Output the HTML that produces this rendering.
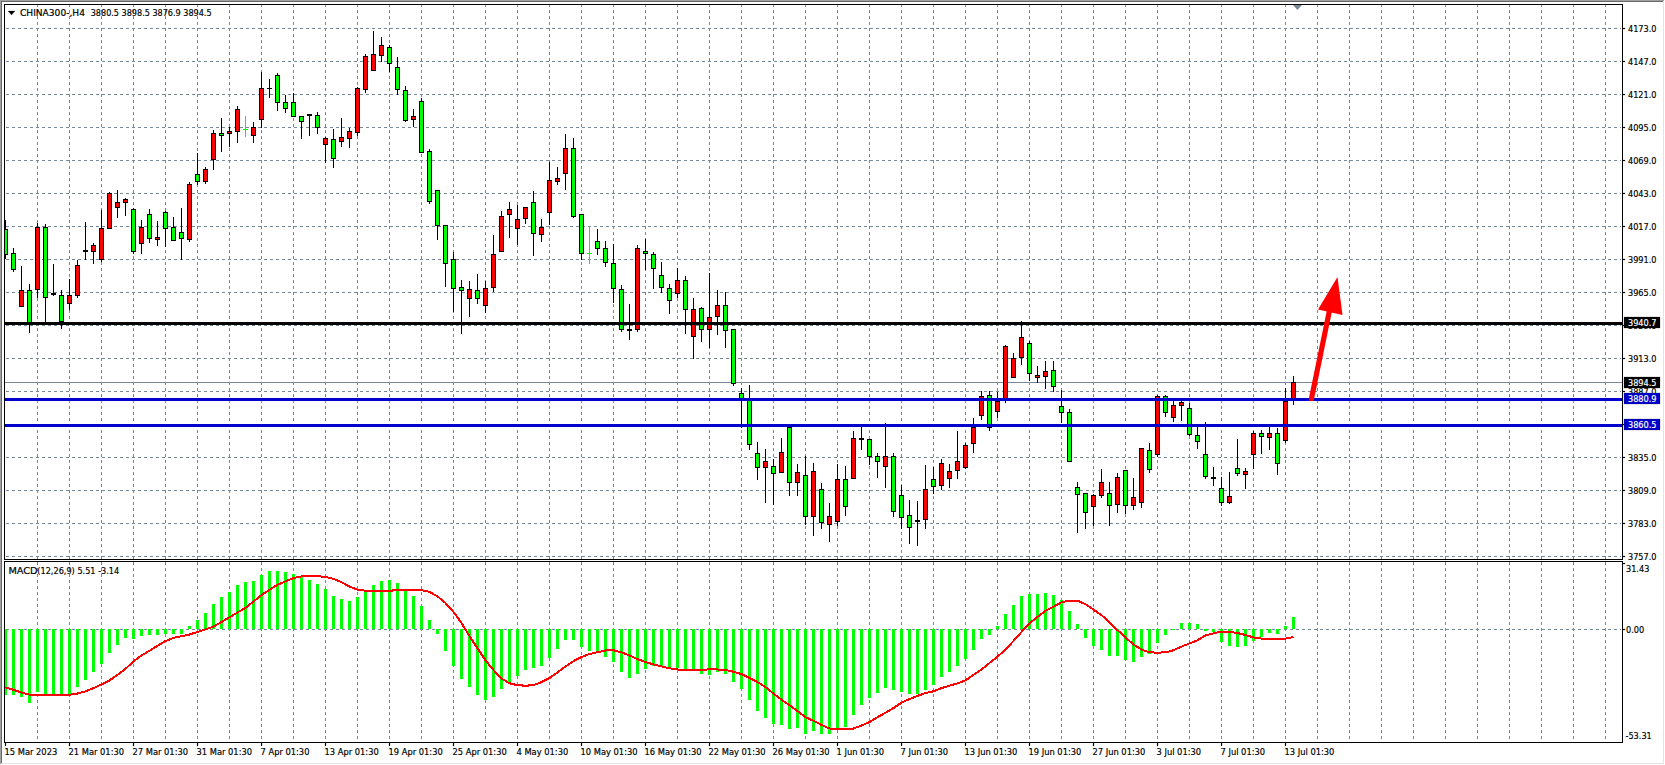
<!DOCTYPE html>
<html><head><meta charset="utf-8"><title>CHINA300-,H4</title>
<style>
html,body{margin:0;padding:0;background:#fff;width:1665px;height:765px;overflow:hidden}
svg{display:block}
text{white-space:pre}
.dt{letter-spacing:0px}
</style></head><body>
<svg width="1665" height="765" viewBox="0 0 1665 765" shape-rendering="crispEdges">
<defs><clipPath id="cm"><rect x="5" y="5" width="1616" height="554"/></clipPath><clipPath id="cd"><rect x="5" y="562" width="1616" height="180"/></clipPath></defs>
<rect x="0" y="0" width="1665" height="765" fill="#ffffff"/>
<rect x="0" y="0" width="1664" height="1" fill="#a0a0a0"/>
<rect x="0" y="0" width="1" height="764" fill="#a0a0a0"/>
<rect x="1" y="1" width="1662" height="1" fill="#696969"/>
<rect x="1" y="1" width="1" height="762" fill="#696969"/>
<rect x="1663" y="1" width="1" height="763" fill="#e3e3e3"/>
<rect x="1" y="763" width="1663" height="1" fill="#e3e3e3"/>
<g clip-path="url(#cm)" stroke="#778899" stroke-width="1" stroke-dasharray="3 3" fill="none">
<line x1="0" y1="28.5" x2="1622" y2="28.5"/>
<line x1="0" y1="61.5" x2="1622" y2="61.5"/>
<line x1="0" y1="94.5" x2="1622" y2="94.5"/>
<line x1="0" y1="127.5" x2="1622" y2="127.5"/>
<line x1="0" y1="160.5" x2="1622" y2="160.5"/>
<line x1="0" y1="193.5" x2="1622" y2="193.5"/>
<line x1="0" y1="226.5" x2="1622" y2="226.5"/>
<line x1="0" y1="259.5" x2="1622" y2="259.5"/>
<line x1="0" y1="292.5" x2="1622" y2="292.5"/>
<line x1="0" y1="325.5" x2="1622" y2="325.5"/>
<line x1="0" y1="358.5" x2="1622" y2="358.5"/>
<line x1="0" y1="391.5" x2="1622" y2="391.5"/>
<line x1="0" y1="424.5" x2="1622" y2="424.5"/>
<line x1="0" y1="457.5" x2="1622" y2="457.5"/>
<line x1="0" y1="490.5" x2="1622" y2="490.5"/>
<line x1="0" y1="523.5" x2="1622" y2="523.5"/>
<line x1="0" y1="556.5" x2="1622" y2="556.5"/>
<line x1="37.5" y1="4" x2="37.5" y2="559"/>
<line x1="69.5" y1="4" x2="69.5" y2="559"/>
<line x1="101.5" y1="4" x2="101.5" y2="559"/>
<line x1="133.5" y1="4" x2="133.5" y2="559"/>
<line x1="165.5" y1="4" x2="165.5" y2="559"/>
<line x1="197.5" y1="4" x2="197.5" y2="559"/>
<line x1="229.5" y1="4" x2="229.5" y2="559"/>
<line x1="261.5" y1="4" x2="261.5" y2="559"/>
<line x1="293.5" y1="4" x2="293.5" y2="559"/>
<line x1="325.5" y1="4" x2="325.5" y2="559"/>
<line x1="357.5" y1="4" x2="357.5" y2="559"/>
<line x1="389.5" y1="4" x2="389.5" y2="559"/>
<line x1="421.5" y1="4" x2="421.5" y2="559"/>
<line x1="453.5" y1="4" x2="453.5" y2="559"/>
<line x1="485.5" y1="4" x2="485.5" y2="559"/>
<line x1="517.5" y1="4" x2="517.5" y2="559"/>
<line x1="549.5" y1="4" x2="549.5" y2="559"/>
<line x1="581.5" y1="4" x2="581.5" y2="559"/>
<line x1="613.5" y1="4" x2="613.5" y2="559"/>
<line x1="645.5" y1="4" x2="645.5" y2="559"/>
<line x1="677.5" y1="4" x2="677.5" y2="559"/>
<line x1="709.5" y1="4" x2="709.5" y2="559"/>
<line x1="741.5" y1="4" x2="741.5" y2="559"/>
<line x1="773.5" y1="4" x2="773.5" y2="559"/>
<line x1="805.5" y1="4" x2="805.5" y2="559"/>
<line x1="837.5" y1="4" x2="837.5" y2="559"/>
<line x1="869.5" y1="4" x2="869.5" y2="559"/>
<line x1="901.5" y1="4" x2="901.5" y2="559"/>
<line x1="933.5" y1="4" x2="933.5" y2="559"/>
<line x1="965.5" y1="4" x2="965.5" y2="559"/>
<line x1="997.5" y1="4" x2="997.5" y2="559"/>
<line x1="1029.5" y1="4" x2="1029.5" y2="559"/>
<line x1="1061.5" y1="4" x2="1061.5" y2="559"/>
<line x1="1093.5" y1="4" x2="1093.5" y2="559"/>
<line x1="1125.5" y1="4" x2="1125.5" y2="559"/>
<line x1="1157.5" y1="4" x2="1157.5" y2="559"/>
<line x1="1189.5" y1="4" x2="1189.5" y2="559"/>
<line x1="1221.5" y1="4" x2="1221.5" y2="559"/>
<line x1="1253.5" y1="4" x2="1253.5" y2="559"/>
<line x1="1285.5" y1="4" x2="1285.5" y2="559"/>
<line x1="1317.5" y1="4" x2="1317.5" y2="559"/>
<line x1="1349.5" y1="4" x2="1349.5" y2="559"/>
<line x1="1381.5" y1="4" x2="1381.5" y2="559"/>
<line x1="1413.5" y1="4" x2="1413.5" y2="559"/>
<line x1="1445.5" y1="4" x2="1445.5" y2="559"/>
<line x1="1477.5" y1="4" x2="1477.5" y2="559"/>
<line x1="1509.5" y1="4" x2="1509.5" y2="559"/>
<line x1="1541.5" y1="4" x2="1541.5" y2="559"/>
<line x1="1573.5" y1="4" x2="1573.5" y2="559"/>
<line x1="1605.5" y1="4" x2="1605.5" y2="559"/>
</g>
<g clip-path="url(#cd)" stroke="#778899" stroke-width="1" stroke-dasharray="3 3" fill="none">
<line x1="0" y1="629.5" x2="1622" y2="629.5"/>
<line x1="37.5" y1="562" x2="37.5" y2="742"/>
<line x1="69.5" y1="562" x2="69.5" y2="742"/>
<line x1="101.5" y1="562" x2="101.5" y2="742"/>
<line x1="133.5" y1="562" x2="133.5" y2="742"/>
<line x1="165.5" y1="562" x2="165.5" y2="742"/>
<line x1="197.5" y1="562" x2="197.5" y2="742"/>
<line x1="229.5" y1="562" x2="229.5" y2="742"/>
<line x1="261.5" y1="562" x2="261.5" y2="742"/>
<line x1="293.5" y1="562" x2="293.5" y2="742"/>
<line x1="325.5" y1="562" x2="325.5" y2="742"/>
<line x1="357.5" y1="562" x2="357.5" y2="742"/>
<line x1="389.5" y1="562" x2="389.5" y2="742"/>
<line x1="421.5" y1="562" x2="421.5" y2="742"/>
<line x1="453.5" y1="562" x2="453.5" y2="742"/>
<line x1="485.5" y1="562" x2="485.5" y2="742"/>
<line x1="517.5" y1="562" x2="517.5" y2="742"/>
<line x1="549.5" y1="562" x2="549.5" y2="742"/>
<line x1="581.5" y1="562" x2="581.5" y2="742"/>
<line x1="613.5" y1="562" x2="613.5" y2="742"/>
<line x1="645.5" y1="562" x2="645.5" y2="742"/>
<line x1="677.5" y1="562" x2="677.5" y2="742"/>
<line x1="709.5" y1="562" x2="709.5" y2="742"/>
<line x1="741.5" y1="562" x2="741.5" y2="742"/>
<line x1="773.5" y1="562" x2="773.5" y2="742"/>
<line x1="805.5" y1="562" x2="805.5" y2="742"/>
<line x1="837.5" y1="562" x2="837.5" y2="742"/>
<line x1="869.5" y1="562" x2="869.5" y2="742"/>
<line x1="901.5" y1="562" x2="901.5" y2="742"/>
<line x1="933.5" y1="562" x2="933.5" y2="742"/>
<line x1="965.5" y1="562" x2="965.5" y2="742"/>
<line x1="997.5" y1="562" x2="997.5" y2="742"/>
<line x1="1029.5" y1="562" x2="1029.5" y2="742"/>
<line x1="1061.5" y1="562" x2="1061.5" y2="742"/>
<line x1="1093.5" y1="562" x2="1093.5" y2="742"/>
<line x1="1125.5" y1="562" x2="1125.5" y2="742"/>
<line x1="1157.5" y1="562" x2="1157.5" y2="742"/>
<line x1="1189.5" y1="562" x2="1189.5" y2="742"/>
<line x1="1221.5" y1="562" x2="1221.5" y2="742"/>
<line x1="1253.5" y1="562" x2="1253.5" y2="742"/>
<line x1="1285.5" y1="562" x2="1285.5" y2="742"/>
<line x1="1317.5" y1="562" x2="1317.5" y2="742"/>
<line x1="1349.5" y1="562" x2="1349.5" y2="742"/>
<line x1="1381.5" y1="562" x2="1381.5" y2="742"/>
<line x1="1413.5" y1="562" x2="1413.5" y2="742"/>
<line x1="1445.5" y1="562" x2="1445.5" y2="742"/>
<line x1="1477.5" y1="562" x2="1477.5" y2="742"/>
<line x1="1509.5" y1="562" x2="1509.5" y2="742"/>
<line x1="1541.5" y1="562" x2="1541.5" y2="742"/>
<line x1="1573.5" y1="562" x2="1573.5" y2="742"/>
<line x1="1605.5" y1="562" x2="1605.5" y2="742"/>
</g>
<rect x="5" y="382" width="1617" height="1" fill="#778899"/>
<g clip-path="url(#cm)">
<rect x="5" y="220" width="1" height="39" fill="#000000"/>
<rect x="3" y="229" width="5" height="26" fill="#000000"/>
<rect x="4" y="230" width="3" height="24" fill="#00ff00"/>
<rect x="13" y="248" width="1" height="24" fill="#000000"/>
<rect x="11" y="253" width="5" height="17" fill="#000000"/>
<rect x="12" y="254" width="3" height="15" fill="#00ff00"/>
<rect x="21" y="266" width="1" height="41" fill="#000000"/>
<rect x="19" y="290" width="5" height="17" fill="#000000"/>
<rect x="20" y="291" width="3" height="15" fill="#ff0000"/>
<rect x="29" y="284" width="1" height="49" fill="#000000"/>
<rect x="27" y="290" width="5" height="33" fill="#000000"/>
<rect x="28" y="291" width="3" height="31" fill="#00ff00"/>
<rect x="37" y="223" width="1" height="75" fill="#000000"/>
<rect x="35" y="227" width="5" height="63" fill="#000000"/>
<rect x="36" y="228" width="3" height="61" fill="#ff0000"/>
<rect x="45" y="224" width="1" height="99" fill="#000000"/>
<rect x="43" y="227" width="5" height="71" fill="#000000"/>
<rect x="44" y="228" width="3" height="69" fill="#00ff00"/>
<rect x="53" y="264" width="1" height="32" fill="#000000"/>
<rect x="51" y="293" width="5" height="2" fill="#000000"/>
<rect x="61" y="290" width="1" height="39" fill="#000000"/>
<rect x="59" y="295" width="5" height="27" fill="#000000"/>
<rect x="60" y="296" width="3" height="25" fill="#00ff00"/>
<rect x="69" y="279" width="1" height="31" fill="#000000"/>
<rect x="67" y="295" width="5" height="9" fill="#000000"/>
<rect x="68" y="296" width="3" height="7" fill="#ff0000"/>
<rect x="77" y="260" width="1" height="38" fill="#000000"/>
<rect x="75" y="265" width="5" height="31" fill="#000000"/>
<rect x="76" y="266" width="3" height="29" fill="#ff0000"/>
<rect x="85" y="222" width="1" height="38" fill="#000000"/>
<rect x="83" y="250" width="5" height="2" fill="#000000"/>
<rect x="93" y="243" width="1" height="21" fill="#000000"/>
<rect x="91" y="245" width="5" height="7" fill="#000000"/>
<rect x="92" y="246" width="3" height="5" fill="#ff0000"/>
<rect x="101" y="210" width="1" height="52" fill="#000000"/>
<rect x="99" y="228" width="5" height="32" fill="#000000"/>
<rect x="100" y="229" width="3" height="30" fill="#ff0000"/>
<rect x="109" y="192" width="1" height="37" fill="#000000"/>
<rect x="107" y="193" width="5" height="36" fill="#000000"/>
<rect x="108" y="194" width="3" height="34" fill="#ff0000"/>
<rect x="117" y="190" width="1" height="28" fill="#000000"/>
<rect x="115" y="202" width="5" height="6" fill="#000000"/>
<rect x="116" y="203" width="3" height="4" fill="#ff0000"/>
<rect x="125" y="198" width="1" height="18" fill="#000000"/>
<rect x="123" y="199" width="5" height="4" fill="#000000"/>
<rect x="124" y="200" width="3" height="2" fill="#ff0000"/>
<rect x="133" y="208" width="1" height="46" fill="#000000"/>
<rect x="131" y="209" width="5" height="43" fill="#000000"/>
<rect x="132" y="210" width="3" height="41" fill="#00ff00"/>
<rect x="141" y="220" width="1" height="34" fill="#000000"/>
<rect x="139" y="227" width="5" height="17" fill="#000000"/>
<rect x="140" y="228" width="3" height="15" fill="#ff0000"/>
<rect x="149" y="209" width="1" height="34" fill="#000000"/>
<rect x="147" y="214" width="5" height="25" fill="#000000"/>
<rect x="148" y="215" width="3" height="23" fill="#00ff00"/>
<rect x="157" y="221" width="1" height="25" fill="#000000"/>
<rect x="155" y="237" width="5" height="3" fill="#000000"/>
<rect x="156" y="238" width="3" height="1" fill="#ff0000"/>
<rect x="165" y="211" width="1" height="36" fill="#000000"/>
<rect x="163" y="212" width="5" height="17" fill="#000000"/>
<rect x="164" y="213" width="3" height="15" fill="#00ff00"/>
<rect x="173" y="217" width="1" height="24" fill="#000000"/>
<rect x="171" y="227" width="5" height="14" fill="#000000"/>
<rect x="172" y="228" width="3" height="12" fill="#00ff00"/>
<rect x="181" y="208" width="1" height="52" fill="#000000"/>
<rect x="179" y="232" width="5" height="7" fill="#000000"/>
<rect x="180" y="233" width="3" height="5" fill="#00ff00"/>
<rect x="189" y="182" width="1" height="60" fill="#000000"/>
<rect x="187" y="184" width="5" height="56" fill="#000000"/>
<rect x="188" y="185" width="3" height="54" fill="#ff0000"/>
<rect x="197" y="153" width="1" height="32" fill="#000000"/>
<rect x="195" y="174" width="5" height="8" fill="#000000"/>
<rect x="196" y="175" width="3" height="6" fill="#00ff00"/>
<rect x="205" y="167" width="1" height="17" fill="#000000"/>
<rect x="203" y="169" width="5" height="13" fill="#000000"/>
<rect x="204" y="170" width="3" height="11" fill="#ff0000"/>
<rect x="213" y="130" width="1" height="40" fill="#000000"/>
<rect x="211" y="133" width="5" height="27" fill="#000000"/>
<rect x="212" y="134" width="3" height="25" fill="#ff0000"/>
<rect x="221" y="118" width="1" height="34" fill="#000000"/>
<rect x="219" y="133" width="5" height="3" fill="#000000"/>
<rect x="220" y="134" width="3" height="1" fill="#00ff00"/>
<rect x="229" y="127" width="1" height="20" fill="#000000"/>
<rect x="227" y="131" width="5" height="3" fill="#000000"/>
<rect x="228" y="132" width="3" height="1" fill="#ff0000"/>
<rect x="237" y="106" width="1" height="37" fill="#000000"/>
<rect x="235" y="109" width="5" height="23" fill="#000000"/>
<rect x="236" y="110" width="3" height="21" fill="#ff0000"/>
<rect x="245" y="116" width="1" height="21" fill="#00ff00"/>
<rect x="243" y="129" width="5" height="1" fill="#00ff00"/>
<rect x="253" y="122" width="1" height="21" fill="#000000"/>
<rect x="251" y="127" width="5" height="9" fill="#000000"/>
<rect x="252" y="128" width="3" height="7" fill="#ff0000"/>
<rect x="261" y="72" width="1" height="56" fill="#000000"/>
<rect x="259" y="88" width="5" height="32" fill="#000000"/>
<rect x="260" y="89" width="3" height="30" fill="#ff0000"/>
<rect x="269" y="79" width="1" height="19" fill="#000000"/>
<rect x="267" y="88" width="5" height="1" fill="#000000"/>
<rect x="277" y="73" width="1" height="38" fill="#000000"/>
<rect x="275" y="75" width="5" height="28" fill="#000000"/>
<rect x="276" y="76" width="3" height="26" fill="#00ff00"/>
<rect x="285" y="95" width="1" height="18" fill="#000000"/>
<rect x="283" y="102" width="5" height="7" fill="#000000"/>
<rect x="284" y="103" width="3" height="5" fill="#00ff00"/>
<rect x="293" y="93" width="1" height="24" fill="#000000"/>
<rect x="291" y="102" width="5" height="15" fill="#000000"/>
<rect x="292" y="103" width="3" height="13" fill="#00ff00"/>
<rect x="301" y="116" width="1" height="23" fill="#000000"/>
<rect x="299" y="116" width="5" height="6" fill="#000000"/>
<rect x="300" y="117" width="3" height="4" fill="#00ff00"/>
<rect x="309" y="114" width="1" height="22" fill="#000000"/>
<rect x="307" y="114" width="5" height="2" fill="#000000"/>
<rect x="317" y="112" width="1" height="22" fill="#000000"/>
<rect x="315" y="115" width="5" height="13" fill="#000000"/>
<rect x="316" y="116" width="3" height="11" fill="#00ff00"/>
<rect x="325" y="137" width="1" height="26" fill="#000000"/>
<rect x="323" y="138" width="5" height="7" fill="#000000"/>
<rect x="324" y="139" width="3" height="5" fill="#ff0000"/>
<rect x="333" y="129" width="1" height="39" fill="#000000"/>
<rect x="331" y="139" width="5" height="20" fill="#000000"/>
<rect x="332" y="140" width="3" height="18" fill="#00ff00"/>
<rect x="341" y="118" width="1" height="29" fill="#000000"/>
<rect x="339" y="137" width="5" height="5" fill="#000000"/>
<rect x="340" y="138" width="3" height="3" fill="#ff0000"/>
<rect x="349" y="128" width="1" height="20" fill="#000000"/>
<rect x="347" y="131" width="5" height="8" fill="#000000"/>
<rect x="348" y="132" width="3" height="6" fill="#ff0000"/>
<rect x="357" y="87" width="1" height="49" fill="#000000"/>
<rect x="355" y="88" width="5" height="45" fill="#000000"/>
<rect x="356" y="89" width="3" height="43" fill="#ff0000"/>
<rect x="365" y="54" width="1" height="39" fill="#000000"/>
<rect x="363" y="56" width="5" height="34" fill="#000000"/>
<rect x="364" y="57" width="3" height="32" fill="#ff0000"/>
<rect x="373" y="31" width="1" height="40" fill="#000000"/>
<rect x="371" y="54" width="5" height="17" fill="#000000"/>
<rect x="372" y="55" width="3" height="15" fill="#ff0000"/>
<rect x="381" y="37" width="1" height="25" fill="#000000"/>
<rect x="379" y="45" width="5" height="11" fill="#000000"/>
<rect x="380" y="46" width="3" height="9" fill="#ff0000"/>
<rect x="389" y="45" width="1" height="27" fill="#000000"/>
<rect x="387" y="47" width="5" height="17" fill="#000000"/>
<rect x="388" y="48" width="3" height="15" fill="#00ff00"/>
<rect x="397" y="57" width="1" height="38" fill="#000000"/>
<rect x="395" y="67" width="5" height="23" fill="#000000"/>
<rect x="396" y="68" width="3" height="21" fill="#00ff00"/>
<rect x="405" y="86" width="1" height="36" fill="#000000"/>
<rect x="403" y="90" width="5" height="31" fill="#000000"/>
<rect x="404" y="91" width="3" height="29" fill="#00ff00"/>
<rect x="413" y="109" width="1" height="18" fill="#000000"/>
<rect x="411" y="116" width="5" height="4" fill="#000000"/>
<rect x="412" y="117" width="3" height="2" fill="#ff0000"/>
<rect x="421" y="98" width="1" height="55" fill="#000000"/>
<rect x="419" y="101" width="5" height="52" fill="#000000"/>
<rect x="420" y="102" width="3" height="50" fill="#00ff00"/>
<rect x="429" y="149" width="1" height="55" fill="#000000"/>
<rect x="427" y="151" width="5" height="51" fill="#000000"/>
<rect x="428" y="152" width="3" height="49" fill="#00ff00"/>
<rect x="437" y="190" width="1" height="50" fill="#000000"/>
<rect x="435" y="190" width="5" height="36" fill="#000000"/>
<rect x="436" y="191" width="3" height="34" fill="#00ff00"/>
<rect x="445" y="225" width="1" height="62" fill="#000000"/>
<rect x="443" y="225" width="5" height="39" fill="#000000"/>
<rect x="444" y="226" width="3" height="37" fill="#00ff00"/>
<rect x="453" y="252" width="1" height="60" fill="#000000"/>
<rect x="451" y="259" width="5" height="30" fill="#000000"/>
<rect x="452" y="260" width="3" height="28" fill="#00ff00"/>
<rect x="461" y="280" width="1" height="54" fill="#000000"/>
<rect x="459" y="287" width="5" height="4" fill="#000000"/>
<rect x="460" y="288" width="3" height="2" fill="#00ff00"/>
<rect x="469" y="281" width="1" height="36" fill="#000000"/>
<rect x="467" y="289" width="5" height="10" fill="#000000"/>
<rect x="468" y="290" width="3" height="8" fill="#ff0000"/>
<rect x="477" y="274" width="1" height="30" fill="#000000"/>
<rect x="475" y="290" width="5" height="9" fill="#000000"/>
<rect x="476" y="291" width="3" height="7" fill="#00ff00"/>
<rect x="485" y="281" width="1" height="32" fill="#000000"/>
<rect x="483" y="288" width="5" height="18" fill="#000000"/>
<rect x="484" y="289" width="3" height="16" fill="#ff0000"/>
<rect x="493" y="235" width="1" height="57" fill="#000000"/>
<rect x="491" y="254" width="5" height="34" fill="#000000"/>
<rect x="492" y="255" width="3" height="32" fill="#ff0000"/>
<rect x="501" y="211" width="1" height="41" fill="#000000"/>
<rect x="499" y="216" width="5" height="36" fill="#000000"/>
<rect x="500" y="217" width="3" height="34" fill="#ff0000"/>
<rect x="509" y="202" width="1" height="36" fill="#000000"/>
<rect x="507" y="209" width="5" height="6" fill="#000000"/>
<rect x="508" y="210" width="3" height="4" fill="#ff0000"/>
<rect x="517" y="205" width="1" height="40" fill="#000000"/>
<rect x="515" y="219" width="5" height="10" fill="#000000"/>
<rect x="516" y="220" width="3" height="8" fill="#ff0000"/>
<rect x="525" y="207" width="1" height="17" fill="#000000"/>
<rect x="523" y="207" width="5" height="12" fill="#000000"/>
<rect x="524" y="208" width="3" height="10" fill="#ff0000"/>
<rect x="533" y="191" width="1" height="65" fill="#000000"/>
<rect x="531" y="202" width="5" height="32" fill="#000000"/>
<rect x="532" y="203" width="3" height="30" fill="#00ff00"/>
<rect x="541" y="219" width="1" height="23" fill="#000000"/>
<rect x="539" y="227" width="5" height="8" fill="#000000"/>
<rect x="540" y="228" width="3" height="6" fill="#ff0000"/>
<rect x="549" y="162" width="1" height="63" fill="#000000"/>
<rect x="547" y="180" width="5" height="33" fill="#000000"/>
<rect x="548" y="181" width="3" height="31" fill="#ff0000"/>
<rect x="557" y="167" width="1" height="18" fill="#000000"/>
<rect x="555" y="178" width="5" height="4" fill="#000000"/>
<rect x="556" y="179" width="3" height="2" fill="#ff0000"/>
<rect x="565" y="134" width="1" height="56" fill="#000000"/>
<rect x="563" y="148" width="5" height="26" fill="#000000"/>
<rect x="564" y="149" width="3" height="24" fill="#ff0000"/>
<rect x="573" y="138" width="1" height="80" fill="#000000"/>
<rect x="571" y="148" width="5" height="69" fill="#000000"/>
<rect x="572" y="149" width="3" height="67" fill="#00ff00"/>
<rect x="581" y="214" width="1" height="46" fill="#000000"/>
<rect x="579" y="214" width="5" height="40" fill="#000000"/>
<rect x="580" y="215" width="3" height="38" fill="#00ff00"/>
<rect x="589" y="226" width="1" height="38" fill="#00ff00"/>
<rect x="587" y="253" width="5" height="1" fill="#00ff00"/>
<rect x="597" y="229" width="1" height="26" fill="#000000"/>
<rect x="595" y="241" width="5" height="8" fill="#000000"/>
<rect x="596" y="242" width="3" height="6" fill="#00ff00"/>
<rect x="605" y="241" width="1" height="26" fill="#000000"/>
<rect x="603" y="248" width="5" height="15" fill="#000000"/>
<rect x="604" y="249" width="3" height="13" fill="#00ff00"/>
<rect x="613" y="244" width="1" height="59" fill="#000000"/>
<rect x="611" y="263" width="5" height="26" fill="#000000"/>
<rect x="612" y="264" width="3" height="24" fill="#00ff00"/>
<rect x="621" y="285" width="1" height="47" fill="#000000"/>
<rect x="619" y="289" width="5" height="41" fill="#000000"/>
<rect x="620" y="290" width="3" height="39" fill="#00ff00"/>
<rect x="629" y="304" width="1" height="36" fill="#000000"/>
<rect x="627" y="329" width="5" height="2" fill="#000000"/>
<rect x="637" y="245" width="1" height="87" fill="#000000"/>
<rect x="635" y="248" width="5" height="82" fill="#000000"/>
<rect x="636" y="249" width="3" height="80" fill="#ff0000"/>
<rect x="645" y="239" width="1" height="31" fill="#000000"/>
<rect x="643" y="251" width="5" height="3" fill="#000000"/>
<rect x="644" y="252" width="3" height="1" fill="#00ff00"/>
<rect x="653" y="252" width="1" height="37" fill="#000000"/>
<rect x="651" y="254" width="5" height="15" fill="#000000"/>
<rect x="652" y="255" width="3" height="13" fill="#00ff00"/>
<rect x="661" y="262" width="1" height="31" fill="#000000"/>
<rect x="659" y="275" width="5" height="13" fill="#000000"/>
<rect x="660" y="276" width="3" height="11" fill="#00ff00"/>
<rect x="669" y="284" width="1" height="30" fill="#000000"/>
<rect x="667" y="288" width="5" height="13" fill="#000000"/>
<rect x="668" y="289" width="3" height="11" fill="#00ff00"/>
<rect x="677" y="268" width="1" height="30" fill="#000000"/>
<rect x="675" y="280" width="5" height="14" fill="#000000"/>
<rect x="676" y="281" width="3" height="12" fill="#ff0000"/>
<rect x="685" y="276" width="1" height="58" fill="#000000"/>
<rect x="683" y="280" width="5" height="30" fill="#000000"/>
<rect x="684" y="281" width="3" height="28" fill="#00ff00"/>
<rect x="693" y="298" width="1" height="61" fill="#000000"/>
<rect x="691" y="309" width="5" height="28" fill="#000000"/>
<rect x="692" y="310" width="3" height="26" fill="#ff0000"/>
<rect x="701" y="307" width="1" height="35" fill="#000000"/>
<rect x="699" y="308" width="5" height="22" fill="#000000"/>
<rect x="700" y="309" width="3" height="20" fill="#00ff00"/>
<rect x="709" y="273" width="1" height="75" fill="#000000"/>
<rect x="707" y="317" width="5" height="13" fill="#000000"/>
<rect x="708" y="318" width="3" height="11" fill="#ff0000"/>
<rect x="717" y="290" width="1" height="45" fill="#000000"/>
<rect x="715" y="305" width="5" height="12" fill="#000000"/>
<rect x="716" y="306" width="3" height="10" fill="#ff0000"/>
<rect x="725" y="292" width="1" height="56" fill="#000000"/>
<rect x="723" y="305" width="5" height="26" fill="#000000"/>
<rect x="724" y="306" width="3" height="24" fill="#00ff00"/>
<rect x="733" y="329" width="1" height="57" fill="#000000"/>
<rect x="731" y="329" width="5" height="55" fill="#000000"/>
<rect x="732" y="330" width="3" height="53" fill="#00ff00"/>
<rect x="741" y="388" width="1" height="40" fill="#000000"/>
<rect x="739" y="393" width="5" height="6" fill="#000000"/>
<rect x="740" y="394" width="3" height="4" fill="#00ff00"/>
<rect x="749" y="385" width="1" height="65" fill="#000000"/>
<rect x="747" y="399" width="5" height="46" fill="#000000"/>
<rect x="748" y="400" width="3" height="44" fill="#00ff00"/>
<rect x="757" y="442" width="1" height="38" fill="#000000"/>
<rect x="755" y="453" width="5" height="15" fill="#000000"/>
<rect x="756" y="454" width="3" height="13" fill="#00ff00"/>
<rect x="765" y="449" width="1" height="54" fill="#000000"/>
<rect x="763" y="461" width="5" height="7" fill="#000000"/>
<rect x="764" y="462" width="3" height="5" fill="#ff0000"/>
<rect x="773" y="459" width="1" height="46" fill="#000000"/>
<rect x="771" y="466" width="5" height="8" fill="#000000"/>
<rect x="772" y="467" width="3" height="6" fill="#00ff00"/>
<rect x="781" y="438" width="1" height="35" fill="#000000"/>
<rect x="779" y="452" width="5" height="21" fill="#000000"/>
<rect x="780" y="453" width="3" height="19" fill="#ff0000"/>
<rect x="789" y="426" width="1" height="70" fill="#000000"/>
<rect x="787" y="427" width="5" height="56" fill="#000000"/>
<rect x="788" y="428" width="3" height="54" fill="#00ff00"/>
<rect x="797" y="464" width="1" height="32" fill="#000000"/>
<rect x="795" y="472" width="5" height="11" fill="#000000"/>
<rect x="796" y="473" width="3" height="9" fill="#ff0000"/>
<rect x="805" y="456" width="1" height="69" fill="#000000"/>
<rect x="803" y="475" width="5" height="42" fill="#000000"/>
<rect x="804" y="476" width="3" height="40" fill="#00ff00"/>
<rect x="813" y="463" width="1" height="73" fill="#000000"/>
<rect x="811" y="471" width="5" height="46" fill="#000000"/>
<rect x="812" y="472" width="3" height="44" fill="#ff0000"/>
<rect x="821" y="483" width="1" height="46" fill="#000000"/>
<rect x="819" y="489" width="5" height="34" fill="#000000"/>
<rect x="820" y="490" width="3" height="32" fill="#00ff00"/>
<rect x="829" y="503" width="1" height="39" fill="#000000"/>
<rect x="827" y="516" width="5" height="9" fill="#000000"/>
<rect x="828" y="517" width="3" height="7" fill="#ff0000"/>
<rect x="837" y="464" width="1" height="62" fill="#000000"/>
<rect x="835" y="479" width="5" height="43" fill="#000000"/>
<rect x="836" y="480" width="3" height="41" fill="#ff0000"/>
<rect x="845" y="466" width="1" height="50" fill="#000000"/>
<rect x="843" y="479" width="5" height="28" fill="#000000"/>
<rect x="844" y="480" width="3" height="26" fill="#00ff00"/>
<rect x="853" y="431" width="1" height="48" fill="#000000"/>
<rect x="851" y="438" width="5" height="41" fill="#000000"/>
<rect x="852" y="439" width="3" height="39" fill="#ff0000"/>
<rect x="861" y="427" width="1" height="23" fill="#000000"/>
<rect x="859" y="438" width="5" height="2" fill="#000000"/>
<rect x="869" y="439" width="1" height="26" fill="#000000"/>
<rect x="867" y="439" width="5" height="18" fill="#000000"/>
<rect x="868" y="440" width="3" height="16" fill="#00ff00"/>
<rect x="877" y="453" width="1" height="25" fill="#000000"/>
<rect x="875" y="456" width="5" height="6" fill="#000000"/>
<rect x="876" y="457" width="3" height="4" fill="#00ff00"/>
<rect x="885" y="423" width="1" height="65" fill="#000000"/>
<rect x="883" y="456" width="5" height="11" fill="#000000"/>
<rect x="884" y="457" width="3" height="9" fill="#ff0000"/>
<rect x="893" y="453" width="1" height="64" fill="#000000"/>
<rect x="891" y="456" width="5" height="56" fill="#000000"/>
<rect x="892" y="457" width="3" height="54" fill="#00ff00"/>
<rect x="901" y="485" width="1" height="44" fill="#000000"/>
<rect x="899" y="495" width="5" height="23" fill="#000000"/>
<rect x="900" y="496" width="3" height="21" fill="#00ff00"/>
<rect x="909" y="500" width="1" height="44" fill="#000000"/>
<rect x="907" y="515" width="5" height="13" fill="#000000"/>
<rect x="908" y="516" width="3" height="11" fill="#00ff00"/>
<rect x="917" y="501" width="1" height="45" fill="#000000"/>
<rect x="915" y="520" width="5" height="2" fill="#000000"/>
<rect x="925" y="465" width="1" height="64" fill="#000000"/>
<rect x="923" y="489" width="5" height="31" fill="#000000"/>
<rect x="924" y="490" width="3" height="29" fill="#ff0000"/>
<rect x="933" y="467" width="1" height="27" fill="#000000"/>
<rect x="931" y="479" width="5" height="8" fill="#000000"/>
<rect x="932" y="480" width="3" height="6" fill="#00ff00"/>
<rect x="941" y="459" width="1" height="31" fill="#000000"/>
<rect x="939" y="463" width="5" height="23" fill="#000000"/>
<rect x="940" y="464" width="3" height="21" fill="#ff0000"/>
<rect x="949" y="464" width="1" height="24" fill="#000000"/>
<rect x="947" y="471" width="5" height="8" fill="#000000"/>
<rect x="948" y="472" width="3" height="6" fill="#ff0000"/>
<rect x="957" y="431" width="1" height="48" fill="#000000"/>
<rect x="955" y="461" width="5" height="10" fill="#000000"/>
<rect x="956" y="462" width="3" height="8" fill="#ff0000"/>
<rect x="965" y="443" width="1" height="26" fill="#000000"/>
<rect x="963" y="445" width="5" height="23" fill="#000000"/>
<rect x="964" y="446" width="3" height="21" fill="#ff0000"/>
<rect x="973" y="418" width="1" height="35" fill="#000000"/>
<rect x="971" y="427" width="5" height="17" fill="#000000"/>
<rect x="972" y="428" width="3" height="15" fill="#ff0000"/>
<rect x="981" y="391" width="1" height="29" fill="#000000"/>
<rect x="979" y="396" width="5" height="20" fill="#000000"/>
<rect x="980" y="397" width="3" height="18" fill="#ff0000"/>
<rect x="989" y="391" width="1" height="40" fill="#000000"/>
<rect x="987" y="395" width="5" height="33" fill="#000000"/>
<rect x="988" y="396" width="3" height="31" fill="#00ff00"/>
<rect x="997" y="392" width="1" height="26" fill="#000000"/>
<rect x="995" y="401" width="5" height="11" fill="#000000"/>
<rect x="996" y="402" width="3" height="9" fill="#ff0000"/>
<rect x="1005" y="345" width="1" height="58" fill="#000000"/>
<rect x="1003" y="346" width="5" height="54" fill="#000000"/>
<rect x="1004" y="347" width="3" height="52" fill="#ff0000"/>
<rect x="1013" y="353" width="1" height="25" fill="#000000"/>
<rect x="1011" y="358" width="5" height="20" fill="#000000"/>
<rect x="1012" y="359" width="3" height="18" fill="#ff0000"/>
<rect x="1021" y="321" width="1" height="44" fill="#000000"/>
<rect x="1019" y="337" width="5" height="21" fill="#000000"/>
<rect x="1020" y="338" width="3" height="19" fill="#ff0000"/>
<rect x="1029" y="341" width="1" height="40" fill="#000000"/>
<rect x="1027" y="343" width="5" height="31" fill="#000000"/>
<rect x="1028" y="344" width="3" height="29" fill="#00ff00"/>
<rect x="1037" y="366" width="1" height="17" fill="#000000"/>
<rect x="1035" y="375" width="5" height="3" fill="#000000"/>
<rect x="1036" y="376" width="3" height="1" fill="#ff0000"/>
<rect x="1045" y="361" width="1" height="28" fill="#000000"/>
<rect x="1043" y="371" width="5" height="6" fill="#000000"/>
<rect x="1044" y="372" width="3" height="4" fill="#ff0000"/>
<rect x="1053" y="361" width="1" height="31" fill="#000000"/>
<rect x="1051" y="370" width="5" height="17" fill="#000000"/>
<rect x="1052" y="371" width="3" height="15" fill="#00ff00"/>
<rect x="1061" y="390" width="1" height="33" fill="#000000"/>
<rect x="1059" y="406" width="5" height="7" fill="#000000"/>
<rect x="1060" y="407" width="3" height="5" fill="#00ff00"/>
<rect x="1069" y="409" width="1" height="53" fill="#000000"/>
<rect x="1067" y="412" width="5" height="50" fill="#000000"/>
<rect x="1068" y="413" width="3" height="48" fill="#00ff00"/>
<rect x="1077" y="482" width="1" height="51" fill="#000000"/>
<rect x="1075" y="487" width="5" height="8" fill="#000000"/>
<rect x="1076" y="488" width="3" height="6" fill="#00ff00"/>
<rect x="1085" y="493" width="1" height="36" fill="#000000"/>
<rect x="1083" y="493" width="5" height="20" fill="#000000"/>
<rect x="1084" y="494" width="3" height="18" fill="#00ff00"/>
<rect x="1093" y="494" width="1" height="32" fill="#000000"/>
<rect x="1091" y="495" width="5" height="12" fill="#000000"/>
<rect x="1092" y="496" width="3" height="10" fill="#ff0000"/>
<rect x="1101" y="469" width="1" height="29" fill="#000000"/>
<rect x="1099" y="482" width="5" height="14" fill="#000000"/>
<rect x="1100" y="483" width="3" height="12" fill="#ff0000"/>
<rect x="1109" y="482" width="1" height="44" fill="#000000"/>
<rect x="1107" y="493" width="5" height="13" fill="#000000"/>
<rect x="1108" y="494" width="3" height="11" fill="#00ff00"/>
<rect x="1117" y="473" width="1" height="40" fill="#000000"/>
<rect x="1115" y="477" width="5" height="28" fill="#000000"/>
<rect x="1116" y="478" width="3" height="26" fill="#ff0000"/>
<rect x="1125" y="470" width="1" height="44" fill="#000000"/>
<rect x="1123" y="470" width="5" height="36" fill="#000000"/>
<rect x="1124" y="471" width="3" height="34" fill="#00ff00"/>
<rect x="1133" y="478" width="1" height="32" fill="#000000"/>
<rect x="1131" y="497" width="5" height="9" fill="#000000"/>
<rect x="1132" y="498" width="3" height="7" fill="#ff0000"/>
<rect x="1141" y="448" width="1" height="60" fill="#000000"/>
<rect x="1139" y="448" width="5" height="55" fill="#000000"/>
<rect x="1140" y="449" width="3" height="53" fill="#ff0000"/>
<rect x="1149" y="443" width="1" height="30" fill="#000000"/>
<rect x="1147" y="450" width="5" height="20" fill="#000000"/>
<rect x="1148" y="451" width="3" height="18" fill="#00ff00"/>
<rect x="1157" y="395" width="1" height="62" fill="#000000"/>
<rect x="1155" y="396" width="5" height="59" fill="#000000"/>
<rect x="1156" y="397" width="3" height="57" fill="#ff0000"/>
<rect x="1165" y="395" width="1" height="22" fill="#000000"/>
<rect x="1163" y="396" width="5" height="17" fill="#000000"/>
<rect x="1164" y="397" width="3" height="15" fill="#00ff00"/>
<rect x="1173" y="401" width="1" height="21" fill="#000000"/>
<rect x="1171" y="405" width="5" height="13" fill="#000000"/>
<rect x="1172" y="406" width="3" height="11" fill="#ff0000"/>
<rect x="1181" y="401" width="1" height="20" fill="#000000"/>
<rect x="1179" y="402" width="5" height="4" fill="#000000"/>
<rect x="1180" y="403" width="3" height="2" fill="#ff0000"/>
<rect x="1189" y="403" width="1" height="33" fill="#000000"/>
<rect x="1187" y="408" width="5" height="27" fill="#000000"/>
<rect x="1188" y="409" width="3" height="25" fill="#00ff00"/>
<rect x="1197" y="427" width="1" height="22" fill="#000000"/>
<rect x="1195" y="435" width="5" height="7" fill="#000000"/>
<rect x="1196" y="436" width="3" height="5" fill="#00ff00"/>
<rect x="1205" y="422" width="1" height="57" fill="#000000"/>
<rect x="1203" y="454" width="5" height="23" fill="#000000"/>
<rect x="1204" y="455" width="3" height="21" fill="#00ff00"/>
<rect x="1213" y="467" width="1" height="19" fill="#000000"/>
<rect x="1211" y="477" width="5" height="2" fill="#000000"/>
<rect x="1221" y="477" width="1" height="29" fill="#000000"/>
<rect x="1219" y="488" width="5" height="15" fill="#000000"/>
<rect x="1220" y="489" width="3" height="13" fill="#00ff00"/>
<rect x="1229" y="472" width="1" height="32" fill="#000000"/>
<rect x="1227" y="496" width="5" height="7" fill="#000000"/>
<rect x="1228" y="497" width="3" height="5" fill="#ff0000"/>
<rect x="1237" y="439" width="1" height="37" fill="#000000"/>
<rect x="1235" y="468" width="5" height="6" fill="#000000"/>
<rect x="1236" y="469" width="3" height="4" fill="#00ff00"/>
<rect x="1245" y="468" width="1" height="21" fill="#000000"/>
<rect x="1243" y="471" width="5" height="4" fill="#000000"/>
<rect x="1244" y="472" width="3" height="2" fill="#ff0000"/>
<rect x="1253" y="431" width="1" height="38" fill="#000000"/>
<rect x="1251" y="433" width="5" height="22" fill="#000000"/>
<rect x="1252" y="434" width="3" height="20" fill="#ff0000"/>
<rect x="1261" y="430" width="1" height="24" fill="#000000"/>
<rect x="1259" y="433" width="5" height="4" fill="#000000"/>
<rect x="1260" y="434" width="3" height="2" fill="#00ff00"/>
<rect x="1269" y="427" width="1" height="23" fill="#000000"/>
<rect x="1267" y="433" width="5" height="5" fill="#000000"/>
<rect x="1268" y="434" width="3" height="3" fill="#ff0000"/>
<rect x="1277" y="428" width="1" height="47" fill="#000000"/>
<rect x="1275" y="433" width="5" height="31" fill="#000000"/>
<rect x="1276" y="434" width="3" height="29" fill="#00ff00"/>
<rect x="1285" y="388" width="1" height="55" fill="#000000"/>
<rect x="1283" y="401" width="5" height="40" fill="#000000"/>
<rect x="1284" y="402" width="3" height="38" fill="#ff0000"/>
<rect x="1293" y="376" width="1" height="29" fill="#000000"/>
<rect x="1291" y="382" width="5" height="17" fill="#000000"/>
<rect x="1292" y="383" width="3" height="15" fill="#ff0000"/>
</g>
<g clip-path="url(#cd)">
<rect x="4" y="629" width="3" height="66" fill="#00ff00"/>
<rect x="12" y="629" width="3" height="66" fill="#00ff00"/>
<rect x="20" y="629" width="3" height="68" fill="#00ff00"/>
<rect x="28" y="629" width="3" height="74" fill="#00ff00"/>
<rect x="36" y="629" width="3" height="63" fill="#00ff00"/>
<rect x="44" y="629" width="3" height="65" fill="#00ff00"/>
<rect x="52" y="629" width="3" height="65" fill="#00ff00"/>
<rect x="60" y="629" width="3" height="65" fill="#00ff00"/>
<rect x="68" y="629" width="3" height="65" fill="#00ff00"/>
<rect x="76" y="629" width="3" height="58" fill="#00ff00"/>
<rect x="84" y="629" width="3" height="51" fill="#00ff00"/>
<rect x="92" y="629" width="3" height="43" fill="#00ff00"/>
<rect x="100" y="629" width="3" height="35" fill="#00ff00"/>
<rect x="108" y="629" width="3" height="24" fill="#00ff00"/>
<rect x="116" y="629" width="3" height="16" fill="#00ff00"/>
<rect x="124" y="629" width="3" height="9" fill="#00ff00"/>
<rect x="132" y="629" width="3" height="10" fill="#00ff00"/>
<rect x="140" y="629" width="3" height="7" fill="#00ff00"/>
<rect x="148" y="629" width="3" height="6" fill="#00ff00"/>
<rect x="156" y="629" width="3" height="6" fill="#00ff00"/>
<rect x="164" y="629" width="3" height="5" fill="#00ff00"/>
<rect x="172" y="629" width="3" height="5" fill="#00ff00"/>
<rect x="180" y="629" width="3" height="5" fill="#00ff00"/>
<rect x="188" y="626" width="3" height="3" fill="#00ff00"/>
<rect x="196" y="620" width="3" height="9" fill="#00ff00"/>
<rect x="204" y="613" width="3" height="16" fill="#00ff00"/>
<rect x="212" y="604" width="3" height="25" fill="#00ff00"/>
<rect x="220" y="597" width="3" height="32" fill="#00ff00"/>
<rect x="228" y="592" width="3" height="37" fill="#00ff00"/>
<rect x="236" y="585" width="3" height="44" fill="#00ff00"/>
<rect x="244" y="582" width="3" height="47" fill="#00ff00"/>
<rect x="252" y="581" width="3" height="48" fill="#00ff00"/>
<rect x="260" y="575" width="3" height="54" fill="#00ff00"/>
<rect x="268" y="571" width="3" height="58" fill="#00ff00"/>
<rect x="276" y="571" width="3" height="58" fill="#00ff00"/>
<rect x="284" y="572" width="3" height="57" fill="#00ff00"/>
<rect x="292" y="574" width="3" height="55" fill="#00ff00"/>
<rect x="300" y="577" width="3" height="52" fill="#00ff00"/>
<rect x="308" y="580" width="3" height="49" fill="#00ff00"/>
<rect x="316" y="584" width="3" height="45" fill="#00ff00"/>
<rect x="324" y="589" width="3" height="40" fill="#00ff00"/>
<rect x="332" y="596" width="3" height="33" fill="#00ff00"/>
<rect x="340" y="599" width="3" height="30" fill="#00ff00"/>
<rect x="348" y="601" width="3" height="28" fill="#00ff00"/>
<rect x="356" y="597" width="3" height="32" fill="#00ff00"/>
<rect x="364" y="591" width="3" height="38" fill="#00ff00"/>
<rect x="372" y="585" width="3" height="44" fill="#00ff00"/>
<rect x="380" y="581" width="3" height="48" fill="#00ff00"/>
<rect x="388" y="580" width="3" height="49" fill="#00ff00"/>
<rect x="396" y="583" width="3" height="46" fill="#00ff00"/>
<rect x="404" y="591" width="3" height="38" fill="#00ff00"/>
<rect x="412" y="596" width="3" height="33" fill="#00ff00"/>
<rect x="420" y="606" width="3" height="23" fill="#00ff00"/>
<rect x="428" y="620" width="3" height="9" fill="#00ff00"/>
<rect x="436" y="629" width="3" height="5" fill="#00ff00"/>
<rect x="444" y="629" width="3" height="22" fill="#00ff00"/>
<rect x="452" y="629" width="3" height="37" fill="#00ff00"/>
<rect x="460" y="629" width="3" height="50" fill="#00ff00"/>
<rect x="468" y="629" width="3" height="58" fill="#00ff00"/>
<rect x="476" y="629" width="3" height="66" fill="#00ff00"/>
<rect x="484" y="629" width="3" height="71" fill="#00ff00"/>
<rect x="492" y="629" width="3" height="68" fill="#00ff00"/>
<rect x="500" y="629" width="3" height="60" fill="#00ff00"/>
<rect x="508" y="629" width="3" height="53" fill="#00ff00"/>
<rect x="516" y="629" width="3" height="47" fill="#00ff00"/>
<rect x="524" y="629" width="3" height="41" fill="#00ff00"/>
<rect x="532" y="629" width="3" height="39" fill="#00ff00"/>
<rect x="540" y="629" width="3" height="37" fill="#00ff00"/>
<rect x="548" y="629" width="3" height="29" fill="#00ff00"/>
<rect x="556" y="629" width="3" height="20" fill="#00ff00"/>
<rect x="564" y="629" width="3" height="11" fill="#00ff00"/>
<rect x="572" y="629" width="3" height="11" fill="#00ff00"/>
<rect x="580" y="629" width="3" height="18" fill="#00ff00"/>
<rect x="588" y="629" width="3" height="22" fill="#00ff00"/>
<rect x="596" y="629" width="3" height="23" fill="#00ff00"/>
<rect x="604" y="629" width="3" height="28" fill="#00ff00"/>
<rect x="612" y="629" width="3" height="33" fill="#00ff00"/>
<rect x="620" y="629" width="3" height="43" fill="#00ff00"/>
<rect x="628" y="629" width="3" height="49" fill="#00ff00"/>
<rect x="636" y="629" width="3" height="45" fill="#00ff00"/>
<rect x="644" y="629" width="3" height="40" fill="#00ff00"/>
<rect x="652" y="629" width="3" height="37" fill="#00ff00"/>
<rect x="660" y="629" width="3" height="37" fill="#00ff00"/>
<rect x="668" y="629" width="3" height="40" fill="#00ff00"/>
<rect x="676" y="629" width="3" height="39" fill="#00ff00"/>
<rect x="684" y="629" width="3" height="40" fill="#00ff00"/>
<rect x="692" y="629" width="3" height="41" fill="#00ff00"/>
<rect x="700" y="629" width="3" height="45" fill="#00ff00"/>
<rect x="708" y="629" width="3" height="46" fill="#00ff00"/>
<rect x="716" y="629" width="3" height="43" fill="#00ff00"/>
<rect x="724" y="629" width="3" height="45" fill="#00ff00"/>
<rect x="732" y="629" width="3" height="53" fill="#00ff00"/>
<rect x="740" y="629" width="3" height="60" fill="#00ff00"/>
<rect x="748" y="629" width="3" height="71" fill="#00ff00"/>
<rect x="756" y="629" width="3" height="82" fill="#00ff00"/>
<rect x="764" y="629" width="3" height="89" fill="#00ff00"/>
<rect x="772" y="629" width="3" height="95" fill="#00ff00"/>
<rect x="780" y="629" width="3" height="96" fill="#00ff00"/>
<rect x="788" y="629" width="3" height="100" fill="#00ff00"/>
<rect x="796" y="629" width="3" height="99" fill="#00ff00"/>
<rect x="804" y="629" width="3" height="105" fill="#00ff00"/>
<rect x="812" y="629" width="3" height="102" fill="#00ff00"/>
<rect x="820" y="629" width="3" height="105" fill="#00ff00"/>
<rect x="828" y="629" width="3" height="105" fill="#00ff00"/>
<rect x="836" y="629" width="3" height="100" fill="#00ff00"/>
<rect x="844" y="629" width="3" height="98" fill="#00ff00"/>
<rect x="852" y="629" width="3" height="86" fill="#00ff00"/>
<rect x="860" y="629" width="3" height="76" fill="#00ff00"/>
<rect x="868" y="629" width="3" height="69" fill="#00ff00"/>
<rect x="876" y="629" width="3" height="64" fill="#00ff00"/>
<rect x="884" y="629" width="3" height="59" fill="#00ff00"/>
<rect x="892" y="629" width="3" height="61" fill="#00ff00"/>
<rect x="900" y="629" width="3" height="63" fill="#00ff00"/>
<rect x="908" y="629" width="3" height="65" fill="#00ff00"/>
<rect x="916" y="629" width="3" height="65" fill="#00ff00"/>
<rect x="924" y="629" width="3" height="61" fill="#00ff00"/>
<rect x="932" y="629" width="3" height="56" fill="#00ff00"/>
<rect x="940" y="629" width="3" height="48" fill="#00ff00"/>
<rect x="948" y="629" width="3" height="43" fill="#00ff00"/>
<rect x="956" y="629" width="3" height="37" fill="#00ff00"/>
<rect x="964" y="629" width="3" height="30" fill="#00ff00"/>
<rect x="972" y="629" width="3" height="21" fill="#00ff00"/>
<rect x="980" y="629" width="3" height="10" fill="#00ff00"/>
<rect x="988" y="629" width="3" height="6" fill="#00ff00"/>
<rect x="996" y="626" width="3" height="3" fill="#00ff00"/>
<rect x="1004" y="614" width="3" height="15" fill="#00ff00"/>
<rect x="1012" y="605" width="3" height="24" fill="#00ff00"/>
<rect x="1020" y="596" width="3" height="33" fill="#00ff00"/>
<rect x="1028" y="594" width="3" height="35" fill="#00ff00"/>
<rect x="1036" y="594" width="3" height="35" fill="#00ff00"/>
<rect x="1044" y="593" width="3" height="36" fill="#00ff00"/>
<rect x="1052" y="595" width="3" height="34" fill="#00ff00"/>
<rect x="1060" y="600" width="3" height="29" fill="#00ff00"/>
<rect x="1068" y="611" width="3" height="18" fill="#00ff00"/>
<rect x="1076" y="624" width="3" height="5" fill="#00ff00"/>
<rect x="1084" y="629" width="3" height="9" fill="#00ff00"/>
<rect x="1092" y="629" width="3" height="17" fill="#00ff00"/>
<rect x="1100" y="629" width="3" height="21" fill="#00ff00"/>
<rect x="1108" y="629" width="3" height="27" fill="#00ff00"/>
<rect x="1116" y="629" width="3" height="27" fill="#00ff00"/>
<rect x="1124" y="629" width="3" height="31" fill="#00ff00"/>
<rect x="1132" y="629" width="3" height="33" fill="#00ff00"/>
<rect x="1140" y="629" width="3" height="28" fill="#00ff00"/>
<rect x="1148" y="629" width="3" height="25" fill="#00ff00"/>
<rect x="1156" y="629" width="3" height="14" fill="#00ff00"/>
<rect x="1164" y="629" width="3" height="6" fill="#00ff00"/>
<rect x="1172" y="629" width="3" height="1" fill="#00ff00"/>
<rect x="1180" y="623" width="3" height="6" fill="#00ff00"/>
<rect x="1188" y="623" width="3" height="6" fill="#00ff00"/>
<rect x="1196" y="624" width="3" height="5" fill="#00ff00"/>
<rect x="1204" y="629" width="3" height="2" fill="#00ff00"/>
<rect x="1212" y="629" width="3" height="3" fill="#00ff00"/>
<rect x="1220" y="629" width="3" height="13" fill="#00ff00"/>
<rect x="1228" y="629" width="3" height="17" fill="#00ff00"/>
<rect x="1236" y="629" width="3" height="18" fill="#00ff00"/>
<rect x="1244" y="629" width="3" height="17" fill="#00ff00"/>
<rect x="1252" y="629" width="3" height="12" fill="#00ff00"/>
<rect x="1260" y="629" width="3" height="8" fill="#00ff00"/>
<rect x="1268" y="629" width="3" height="4" fill="#00ff00"/>
<rect x="1276" y="629" width="3" height="5" fill="#00ff00"/>
<rect x="1284" y="626" width="3" height="3" fill="#00ff00"/>
<rect x="1292" y="617" width="3" height="12" fill="#00ff00"/>
<polyline points="5.5,687.4 13.5,689.8 21.5,692.5 29.5,694.7 37.5,694.7 45.5,694.7 53.5,694.7 61.5,694.7 69.5,694.7 77.5,693.5 85.5,691.3 93.5,688.1 101.5,684.5 109.5,680.4 117.5,674.8 125.5,668.8 133.5,661.5 141.5,655.5 149.5,650.7 157.5,645.8 165.5,641 173.5,637.9 181.5,636.2 189.5,634.5 197.5,632 205.5,629.4 213.5,626.5 221.5,622 229.5,617.3 237.5,612.5 245.5,607.9 253.5,601.5 261.5,595 269.5,589.8 277.5,584.7 285.5,581.4 293.5,578.1 301.5,576.4 309.5,576 317.5,576.2 325.5,576.9 333.5,578.9 341.5,582.2 349.5,586.6 357.5,589.7 365.5,590.7 373.5,590.7 381.5,590.7 389.5,590.7 397.5,590.2 405.5,590.2 413.5,590.2 421.5,590.2 429.5,591.9 437.5,596.3 445.5,603 453.5,612 461.5,622.9 469.5,636.2 477.5,648.2 485.5,660.3 493.5,670 501.5,678.5 509.5,683.3 517.5,685.2 525.5,685.7 533.5,685.2 541.5,682.1 549.5,678 557.5,672.4 565.5,666.4 573.5,661.1 581.5,657 589.5,654 597.5,652.2 605.5,650.5 613.5,650.2 621.5,652.4 629.5,655.5 637.5,659.1 645.5,662 653.5,664.4 661.5,666.4 669.5,668.3 677.5,669.5 685.5,670 693.5,670 701.5,670 709.5,669.3 717.5,669.5 725.5,670 733.5,671.7 741.5,674.1 749.5,678 757.5,682.1 765.5,687 773.5,693.7 781.5,699.7 789.5,705.1 797.5,711.1 805.5,717.2 813.5,720.8 821.5,724.9 829.5,728.5 837.5,728.5 845.5,728.5 853.5,728.5 861.5,725.6 869.5,722 877.5,717.2 885.5,712.8 893.5,708 901.5,702.7 909.5,699 917.5,695.9 925.5,693 933.5,691.3 941.5,688.1 949.5,685.7 957.5,683.3 965.5,680.4 973.5,674.8 981.5,669.5 989.5,663 997.5,656.7 1005.5,649.5 1013.5,641 1021.5,632 1029.5,623.3 1037.5,616.8 1045.5,610.8 1053.5,606.7 1061.5,602.3 1069.5,600.6 1077.5,600.6 1085.5,604.2 1093.5,609.6 1101.5,615.1 1109.5,622.4 1117.5,630.1 1125.5,637.4 1133.5,644.6 1141.5,649.5 1149.5,652.4 1157.5,652.6 1165.5,652.4 1173.5,650.2 1181.5,646.6 1189.5,643.4 1197.5,640.3 1205.5,635.4 1213.5,633.3 1221.5,631.6 1229.5,632 1237.5,633 1245.5,635 1253.5,637.4 1261.5,638.6 1269.5,638.6 1277.5,638.6 1285.5,638.6 1293.5,636.9" fill="none" stroke="#ff0000" stroke-width="2" stroke-linejoin="round"/>
</g>
<rect x="5" y="322" width="1617" height="3" fill="#000000"/>
<rect x="5" y="398" width="1617" height="3" fill="#0000cd"/>
<rect x="5" y="424" width="1617" height="3" fill="#0000cd"/>
<g clip-path="url(#cm)">
<line x1="1311.5" y1="398.5" x2="1330" y2="308" stroke="#ff0000" stroke-width="5.2" stroke-linecap="round" shape-rendering="auto"/>
<polygon points="1337.5,277 1318,309.5 1342.5,315" fill="#ff0000" shape-rendering="auto"/>
<polygon points="1293,5 1302,5 1297.5,10" fill="#778899" shape-rendering="auto"/>
</g>
<rect x="4" y="4" width="1619" height="1" fill="#000000"/>
<rect x="4" y="559" width="1619" height="1" fill="#000000"/>
<rect x="4" y="561" width="1619" height="1" fill="#000000"/>
<rect x="4" y="742" width="1619" height="1" fill="#000000"/>
<rect x="4" y="4" width="1" height="556" fill="#000000"/>
<rect x="4" y="561" width="1" height="182" fill="#000000"/>
<rect x="1622" y="4" width="1" height="556" fill="#000000"/>
<rect x="1622" y="561" width="1" height="182" fill="#000000"/>
<g font-family='"DejaVu Sans", "Liberation Sans", sans-serif' font-size="9.5px" fill="#000000" stroke="#000000" stroke-width="0.2" shape-rendering="auto">
<rect x="1623" y="28" width="2" height="1" fill="#000000"/>
<text transform="translate(1628,32) scale(0.8579,1)">4173.0</text>
<rect x="1623" y="61" width="2" height="1" fill="#000000"/>
<text transform="translate(1628,65) scale(0.8579,1)">4147.0</text>
<rect x="1623" y="94" width="2" height="1" fill="#000000"/>
<text transform="translate(1628,98) scale(0.8579,1)">4121.0</text>
<rect x="1623" y="127" width="2" height="1" fill="#000000"/>
<text transform="translate(1628,131) scale(0.8579,1)">4095.0</text>
<rect x="1623" y="160" width="2" height="1" fill="#000000"/>
<text transform="translate(1628,164) scale(0.8579,1)">4069.0</text>
<rect x="1623" y="193" width="2" height="1" fill="#000000"/>
<text transform="translate(1628,197) scale(0.8579,1)">4043.0</text>
<rect x="1623" y="226" width="2" height="1" fill="#000000"/>
<text transform="translate(1628,230) scale(0.8579,1)">4017.0</text>
<rect x="1623" y="259" width="2" height="1" fill="#000000"/>
<text transform="translate(1628,263) scale(0.8579,1)">3991.0</text>
<rect x="1623" y="292" width="2" height="1" fill="#000000"/>
<text transform="translate(1628,296) scale(0.8579,1)">3965.0</text>
<rect x="1623" y="325" width="2" height="1" fill="#000000"/>
<text transform="translate(1628,329) scale(0.8579,1)">3939.0</text>
<rect x="1623" y="358" width="2" height="1" fill="#000000"/>
<text transform="translate(1628,362) scale(0.8579,1)">3913.0</text>
<rect x="1623" y="391" width="2" height="1" fill="#000000"/>
<text transform="translate(1628,395) scale(0.8579,1)">3887.0</text>
<rect x="1623" y="424" width="2" height="1" fill="#000000"/>
<text transform="translate(1628,428) scale(0.8579,1)">3861.0</text>
<rect x="1623" y="457" width="2" height="1" fill="#000000"/>
<text transform="translate(1628,461) scale(0.8579,1)">3835.0</text>
<rect x="1623" y="490" width="2" height="1" fill="#000000"/>
<text transform="translate(1628,494) scale(0.8579,1)">3809.0</text>
<rect x="1623" y="523" width="2" height="1" fill="#000000"/>
<text transform="translate(1628,527) scale(0.8579,1)">3783.0</text>
<rect x="1623" y="556" width="2" height="1" fill="#000000"/>
<text transform="translate(1628,560) scale(0.8579,1)">3757.0</text>
<rect x="1623" y="563" width="2" height="1" fill="#000000"/>
<rect x="1623" y="629" width="2" height="1" fill="#000000"/>
<text transform="translate(1626,572) scale(0.8579,1)">31.43</text>
<text transform="translate(1626,633) scale(0.8579,1)">0.00</text>
<text transform="translate(1625.5,739) scale(0.8579,1)">-53.31</text>
<rect x="1624" y="317" width="36" height="11" fill="#000000"/>
<text transform="translate(1628,326) scale(0.8579,1)" fill="#ffffff" stroke="#ffffff">3940.7</text>
<rect x="1624" y="377" width="36" height="11" fill="#000000"/>
<text transform="translate(1628,386) scale(0.8579,1)" fill="#ffffff" stroke="#ffffff">3894.5</text>
<rect x="1624" y="393" width="36" height="11" fill="#0000cd"/>
<text transform="translate(1628,402) scale(0.8579,1)" fill="#ffffff" stroke="#ffffff">3880.9</text>
<rect x="1624" y="419" width="36" height="11" fill="#0000cd"/>
<text transform="translate(1628,428) scale(0.8579,1)" fill="#ffffff" stroke="#ffffff">3860.5</text>
<rect x="5" y="743" width="1" height="3" fill="#000000"/>
<text transform="translate(4.5,755) scale(0.8768,1)">15 Mar 2023</text>
<rect x="69" y="743" width="1" height="3" fill="#000000"/>
<text transform="translate(68.5,755) scale(0.8768,1)">21 Mar 01:30</text>
<rect x="133" y="743" width="1" height="3" fill="#000000"/>
<text transform="translate(132.5,755) scale(0.8768,1)">27 Mar 01:30</text>
<rect x="197" y="743" width="1" height="3" fill="#000000"/>
<text transform="translate(196.5,755) scale(0.8768,1)">31 Mar 01:30</text>
<rect x="261" y="743" width="1" height="3" fill="#000000"/>
<text transform="translate(260.5,755) scale(0.8768,1)">7 Apr 01:30</text>
<rect x="325" y="743" width="1" height="3" fill="#000000"/>
<text transform="translate(324.5,755) scale(0.8768,1)">13 Apr 01:30</text>
<rect x="389" y="743" width="1" height="3" fill="#000000"/>
<text transform="translate(388.5,755) scale(0.8768,1)">19 Apr 01:30</text>
<rect x="453" y="743" width="1" height="3" fill="#000000"/>
<text transform="translate(452.5,755) scale(0.8768,1)">25 Apr 01:30</text>
<rect x="517" y="743" width="1" height="3" fill="#000000"/>
<text transform="translate(516.5,755) scale(0.8768,1)">4 May 01:30</text>
<rect x="581" y="743" width="1" height="3" fill="#000000"/>
<text transform="translate(580.5,755) scale(0.8768,1)">10 May 01:30</text>
<rect x="645" y="743" width="1" height="3" fill="#000000"/>
<text transform="translate(644.5,755) scale(0.8768,1)">16 May 01:30</text>
<rect x="709" y="743" width="1" height="3" fill="#000000"/>
<text transform="translate(708.5,755) scale(0.8768,1)">22 May 01:30</text>
<rect x="773" y="743" width="1" height="3" fill="#000000"/>
<text transform="translate(772.5,755) scale(0.8768,1)">26 May 01:30</text>
<rect x="837" y="743" width="1" height="3" fill="#000000"/>
<text transform="translate(836.5,755) scale(0.8768,1)">1 Jun 01:30</text>
<rect x="901" y="743" width="1" height="3" fill="#000000"/>
<text transform="translate(900.5,755) scale(0.8768,1)">7 Jun 01:30</text>
<rect x="965" y="743" width="1" height="3" fill="#000000"/>
<text transform="translate(964.5,755) scale(0.8768,1)">13 Jun 01:30</text>
<rect x="1029" y="743" width="1" height="3" fill="#000000"/>
<text transform="translate(1028.5,755) scale(0.8768,1)">19 Jun 01:30</text>
<rect x="1093" y="743" width="1" height="3" fill="#000000"/>
<text transform="translate(1092.5,755) scale(0.8768,1)">27 Jun 01:30</text>
<rect x="1157" y="743" width="1" height="3" fill="#000000"/>
<text transform="translate(1156.5,755) scale(0.8768,1)">3 Jul 01:30</text>
<rect x="1221" y="743" width="1" height="3" fill="#000000"/>
<text transform="translate(1220.5,755) scale(0.8768,1)">7 Jul 01:30</text>
<rect x="1285" y="743" width="1" height="3" fill="#000000"/>
<text transform="translate(1284.5,755) scale(0.8768,1)">13 Jul 01:30</text>
<polygon points="8,11 15,11 11.5,15" fill="#000000"/>
<text transform="translate(20,16) scale(0.9568,1)">CHINA300-,H4</text>
<text transform="translate(90.7,16) scale(0.8526,1)">3880.5 3898.5 3876.9 3894.5</text>
<text transform="translate(8.4,574) scale(1.0253,1)">MACD</text>
<text transform="translate(37.3,574) scale(0.86,1)">(12,26,9) 5.51 -3.14</text>
</g>
</svg>
</body></html>
